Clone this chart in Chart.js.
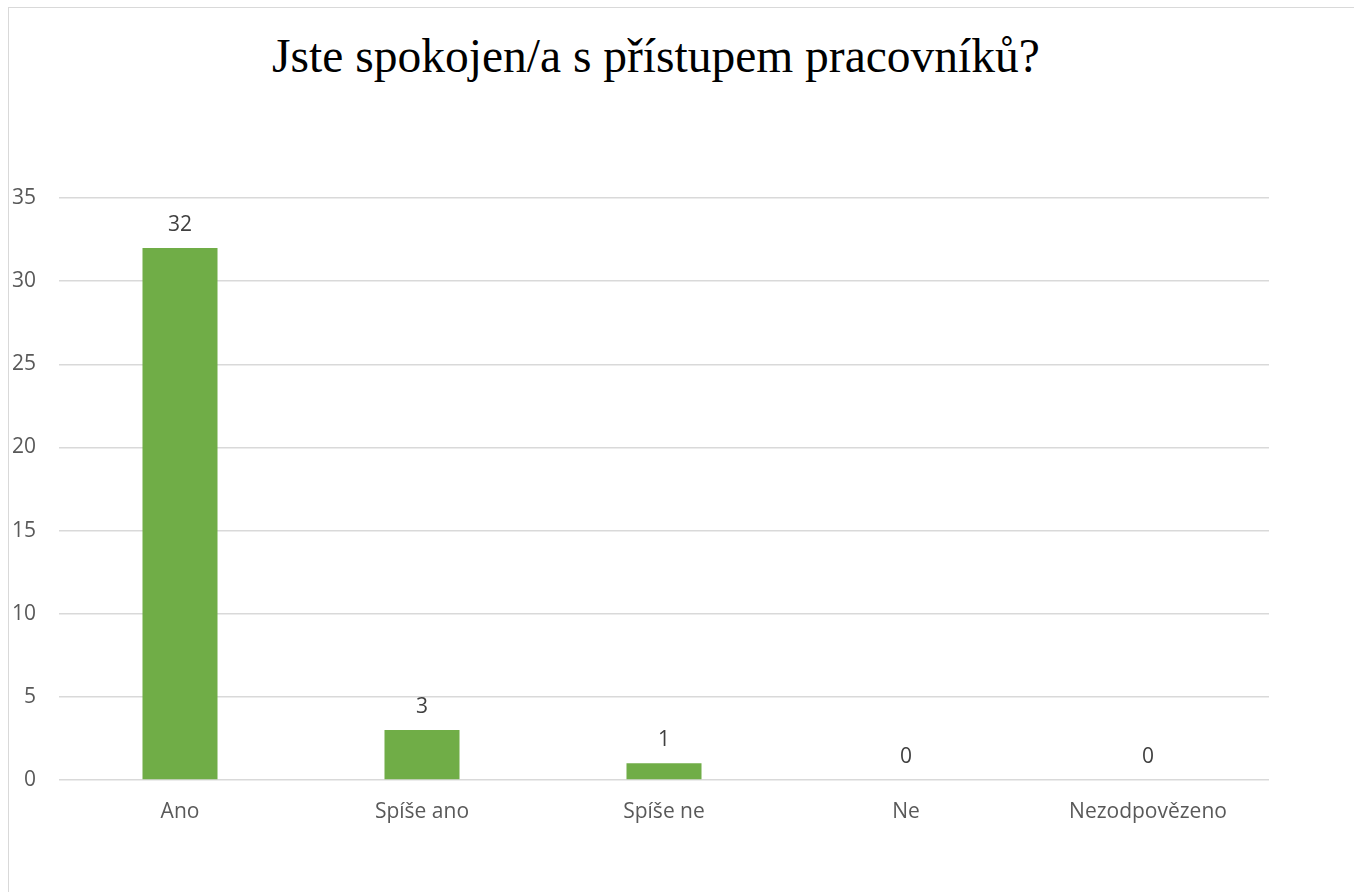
<!DOCTYPE html>
<html lang="cs">
<head>
  <meta charset="UTF-8">
  <title>Jste spokojen/a s přístupem pracovníků?</title>
  <script src="https://cdn.jsdelivr.net/npm/chart.js"></script>
  <style>
        body {
            margin: 0;
            background-color: #ffffff;
            overflow: hidden;
        }

        #frame {
            position: absolute;
            left: 8px;
            top: 7px;
            width: 1400px;
            height: 950px;
            border-left: 1px solid #d9d9d9;
            border-top: 1px solid #d9d9d9;
        }

        #title {
            position: absolute;
            left: 0;
            top: 33px;
            width: 1312px;
            text-align: center;
            font-family: "Liberation Serif", "Times New Roman", serif;
            font-size: 47.5px;
            line-height: 1;
            color: #000000;
        }

        #wrap {
            position: absolute;
            left: 9px;
            top: 8px;
            width: 1345px;
            height: 884px;
        }
    </style>
</head>
<body>
<div id="frame"></div>
<div id="title">Jste spokojen/a s přístupem pracovníků?</div>
<div id="wrap"><canvas id="answersChart"></canvas></div>
<script>
    const categories = ['Ano', 'Spíše ano', 'Spíše ne', 'Ne', 'Nezodpovězeno'];
    const answerCounts = [32, 3, 1, 0, 0];
    const yTicks = [0, 5, 10, 15, 20, 25, 30, 35];

    const tickFont = { family: '"Open Sans", "DejaVu Sans", sans-serif', size: 21 };

    // hodnoty nad sloupci
    const valueLabels = {
        id: 'valueLabels',
        afterDatasetsDraw(chart) {
            const ctx = chart.ctx;
            const meta = chart.getDatasetMeta(0);
            ctx.save();
            ctx.font = '21px "Open Sans", "DejaVu Sans", sans-serif';
            ctx.fillStyle = '#404040';
            ctx.textAlign = 'center';
            ctx.textBaseline = 'middle';
            meta.data.forEach((bar, i) => {
                ctx.fillText(String(answerCounts[i]), bar.x, bar.y - 23);
            });
            ctx.restore();
        }
    };

    const ctx = document.getElementById('answersChart').getContext('2d');
    const answersChart = new Chart(ctx, {
        type: 'bar',
        data: {
            labels: categories,
            datasets: [{
                label: 'Počet',
                data: answerCounts,
                backgroundColor: '#70ad47',
                borderWidth: 0,
                categoryPercentage: 1,
                barPercentage: 0.31
            }]
        },
        options: {
            responsive: true,
            maintainAspectRatio: false,
            animation: false,
            layout: {
                padding: { left: 0, right: 85, top: 190, bottom: 62 }
            },
            plugins: {
                legend: { display: false },
                tooltip: { enabled: false },
                title: { display: false }
            },
            scales: {
                x: {
                    grid: { display: false, drawTicks: false },
                    border: { display: false },
                    ticks: { color: '#595959', font: tickFont, padding: 19, maxRotation: 0 },
                    afterFit(scale) { scale.height = 50; }
                },
                y: {
                    min: 0,
                    max: 35,
                    afterBuildTicks(scale) {
                        scale.ticks = yTicks.map(v => ({ value: v }));
                    },
                    grid: { color: '#d9d9d9', lineWidth: 1.5, drawTicks: false },
                    border: { display: false },
                    ticks: { color: '#595959', font: tickFont, padding: 23 },
                    afterFit(scale) { scale.width = 50; }
                }
            }
        },
        plugins: [valueLabels]
    });
</script>
</body>
</html>
